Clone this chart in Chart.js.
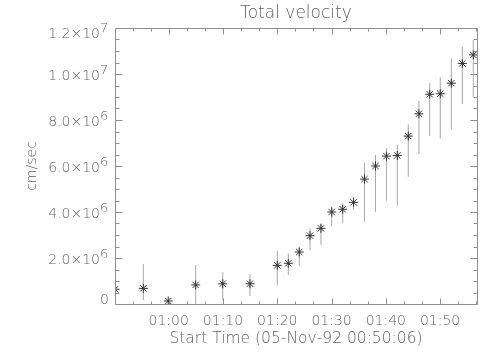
<!DOCTYPE html>
<html>
<head>
<meta charset="utf-8">
<script src="https://cdn.jsdelivr.net/npm/chart.js@4/dist/chart.umd.min.js"></script>
<style>
	html, body { margin: 0; padding: 0; background: #fff; }
	#wrap { width: 504px; height: 360px; }
</style>
</head>
<body>
<div id="wrap"><canvas id="total-velocity"></canvas></div>
<script>
const startTime = '00:50:06';
const endTime = '01:56:48';

const obsTimes = [
	'00:50:06', '00:55:19', '00:59:55', '01:04:58', '01:09:57', '01:14:58',
	'01:20:00', '01:22:02', '01:24:03', '01:26:02', '01:28:03', '01:30:02',
	'01:32:03', '01:34:03', '01:36:04', '01:38:06', '01:40:07', '01:42:07',
	'01:44:08', '01:46:06', '01:48:05', '01:50:02', '01:52:04', '01:54:06',
	'01:56:07',
];
// cm/sec
const velocity = [
	0.64e6, 0.68e6, 0.13e6, 0.83e6, 0.88e6, 0.88e6, 1.68e6, 1.77e6, 2.26e6,
	2.97e6, 3.29e6, 4.0e6, 4.12e6, 4.42e6, 5.43e6, 6.0e6, 6.43e6, 6.46e6,
	7.3e6, 8.27e6, 9.12e6, 9.14e6, 9.6e6, 10.46e6, 10.83e6,
];
const velocityHigh = [
	1.7e6, 1.74e6, 0.22e6, 1.7e6, 1.38e6, 1.29e6, 2.32e6, 2.2e6, 2.49e6,
	3.29e6, 3.5e6, 4.23e6, 4.38e6, 4.67e6, 6.12e6, 6.48e6, 6.77e6, 6.94e6,
	7.81e6, 8.83e6, 9.6e6, 9.86e6, 10.68e6, 11.19e6, 11.48e6,
];
const velocityLow = [
	0, 0.17e6, 0.05e6, 0, 0.17e6, 0.35e6, 0.8e6, 1.26e6, 1.65e6,
	2.35e6, 2.57e6, 3.39e6, 3.51e6, 4.12e6, 3.58e6, 4.01e6, 4.49e6, 4.27e6,
	5.53e6, 6.51e6, 7.3e6, 7.2e6, 7.6e6, 8.7e6, 9.01e6,
];

const xTickLabels = ['01:00', '01:10', '01:20', '01:30', '01:40', '01:50'];
const yTickValues = [0, 2e6, 4e6, 6e6, 8e6, 1e7, 1.2e7];
const yTickMantissa = ['0', '2.0', '4.0', '6.0', '8.0', '1.0', '1.2'];
const yTickExponent = ['', '6', '6', '6', '6', '7', '7'];

const textColor = '#626262';
const axisColor = '#8f8f8f';
const fontFamily = 'DejaVu Sans';
const fontWeight = 200;

function toSeconds(str) {
	const parts = str.split(':').map(Number);
	return parts[0] * 3600 + parts[1] * 60 + (parts[2] || 0);
}
function sinceStart(str) {
	return toSeconds(str) - toSeconds(startTime);
}

const xMajor = xTickLabels.map((label) => sinceStart(label));
const xMax = sinceStart(endTime);

// IDL style box: inward ticks on all four sides, y labels with exponents
const idlAxes = {
	id: 'idlAxes',
	afterDatasetsDraw(chart) {
		const { ctx, chartArea: area, scales } = chart;
		const x = scales.x;
		const y = scales.y;
		const left = Math.round(area.left) + 0.5;
		const right = Math.round(area.right) + 0.5;
		const top = Math.round(area.top) + 0.5;
		const bottom = Math.round(area.bottom) + 0.5;

		ctx.save();
		ctx.strokeStyle = axisColor;
		ctx.lineWidth = 1;
		ctx.beginPath();
		ctx.rect(left, top, right - left, bottom - top);

		const xTick = (value, len) => {
			const px = Math.round(x.getPixelForValue(value)) + 0.5;
			ctx.moveTo(px, bottom);
			ctx.lineTo(px, bottom - len);
			ctx.moveTo(px, top);
			ctx.lineTo(px, top + len);
		};
		const yTick = (value, len) => {
			const py = Math.round(y.getPixelForValue(value)) + 0.5;
			ctx.moveTo(left, py);
			ctx.lineTo(left + len, py);
			ctx.moveTo(right, py);
			ctx.lineTo(right - len, py);
		};

		let first = xMajor[0];
		while (first - 200 >= 0) first -= 200;
		for (let v = first; v <= xMax; v += 200) {
			xTick(v, xMajor.includes(v) ? 6 : 3);
		}
		for (let v = 0; v <= y.max; v += 5e5) {
			yTick(v, yTickValues.includes(v) ? 7 : 4);
		}
		ctx.stroke();

		ctx.fillStyle = textColor;
		ctx.textBaseline = 'alphabetic';
		yTickValues.forEach((value, i) => {
			const py = y.getPixelForValue(value);
			ctx.font = fontWeight + ' 14px ' + fontFamily;
			if (!yTickExponent[i]) {
				ctx.textAlign = 'right';
				ctx.fillText(yTickMantissa[i], 109, py);
				return;
			}
			const base = Math.max(py + 6, area.top + 10);
			ctx.textAlign = 'right';
			ctx.fillText(yTickMantissa[i] + '\u00d710', 100, base);
			ctx.textAlign = 'left';
			ctx.font = fontWeight + ' 13px ' + fontFamily;
			ctx.fillText(yTickExponent[i], 100, base - 6);
		});
		ctx.restore();
	},
};

Chart.defaults.font.family = fontFamily;
Chart.defaults.font.weight = fontWeight;
Chart.defaults.color = textColor;

new Chart(document.getElementById('total-velocity'), {
	type: 'scatter',
	data: {
		datasets: [
			{
				type: 'bar',
				data: obsTimes.map((t, i) => ({
					x: sinceStart(t),
					y: [velocityLow[i], velocityHigh[i]],
				})),
				backgroundColor: '#a8a8a8',
				borderWidth: 0,
				barThickness: 1,
				inflateAmount: 0,
				grouped: false,
				order: 2,
			},
			{
				type: 'scatter',
				data: obsTimes.map((t, i) => ({
					x: sinceStart(t),
					y: velocity[i],
				})),
				pointStyle: 'star',
				pointRadius: 4.5,
				pointBorderWidth: 1,
				borderColor: '#333',
				backgroundColor: 'rgba(0,0,0,0)',
				order: 1,
			},
		],
	},
	options: {
		responsive: true,
		maintainAspectRatio: false,
		animation: false,
		layout: { padding: { left: 0, right: 27, top: 0, bottom: 0 } },
		plugins: {
			legend: { display: false },
			tooltip: { enabled: false },
			title: {
				display: true,
				text: 'Total velocity',
				fullSize: false,
				color: textColor,
				font: { size: 17, weight: fontWeight },
				padding: { top: 3.6, bottom: 4 },
			},
		},
		scales: {
			x: {
				type: 'linear',
				min: 0,
				max: xMax,
				bounds: 'data',
				offset: false,
				grid: { display: false, drawTicks: false },
				border: { display: false },
				afterBuildTicks: (scale) => {
					scale.ticks = xMajor.map((value) => ({ value }));
				},
				afterFit: (scale) => {
					scale.height = 56;
				},
				ticks: {
					autoSkip: false,
					maxRotation: 0,
					padding: 9,
					color: textColor,
					font: { size: 14, weight: fontWeight },
					callback: (value, index) => xTickLabels[index],
				},
				title: {
					display: true,
					text: 'Start Time (05-Nov-92 00:50:06)',
					color: textColor,
					font: { size: 15.5, weight: fontWeight },
					padding: { top: 0, bottom: 12 },
				},
			},
			y: {
				type: 'linear',
				min: 0,
				max: 1.2e7,
				grid: { display: false, drawTicks: false },
				border: { display: false },
				ticks: { display: false, stepSize: 2e6 },
				afterFit: (scale) => {
					scale.width = 115;
				},
				title: {
					display: true,
					text: 'cm/sec',
					color: textColor,
					font: { size: 14, weight: fontWeight },
					padding: { top: 24, bottom: 0 },
				},
			},
		},
	},
	plugins: [idlAxes],
});
</script>
</body>
</html>
